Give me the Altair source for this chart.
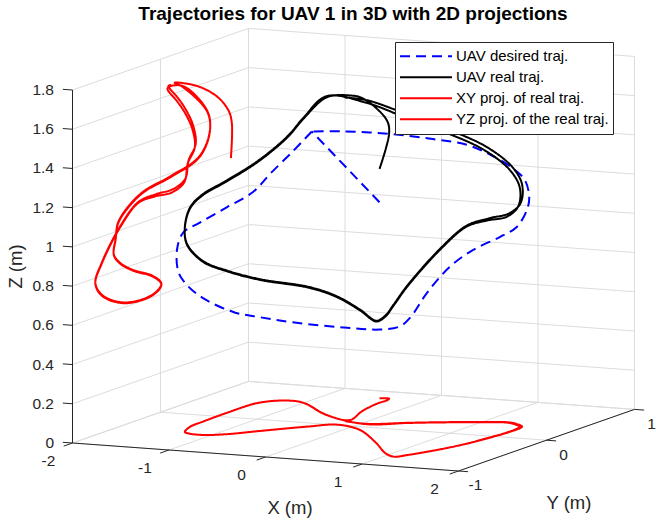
import altair as alt
import pandas as pd

# ---------------- text / categories ----------------
TITLE = "Trajectories for UAV 1 in 3D with 2D projections"
SERIES = ["UAV desired traj.", "UAV real traj.",
          "XY proj. of real traj.", "YZ proj. of the real traj."]
X_TICKS = [-2, -1, 0, 1, 2]
X_LABELS = ["-2", "-1", "0", "1", "2"]
Y_TICKS = [-1, 0, 1]
Y_LABELS = ["-1", "0", "1"]
Z_TICKS = [0, 0.2, 0.4, 0.6, 0.8, 1.0, 1.2, 1.4, 1.6, 1.8]
Z_LABELS = ["0", "0.2", "0.4", "0.6", "0.8", "1", "1.2", "1.4", "1.6", "1.8"]
AXIS_TITLES = ["X (m)", "Y (m)", "Z (m)"]

# ---------------- data (metres) ----------------
# desired trajectory: lead-in segment and closed loop
lead_x = [-0.46, -0.66]
lead_y = [0.80, 0.25]
lead_z = [1.00, 1.44]

des_x = [-0.66, -1.11, -1.27, -1.315, -1.31, -1.36, -1.40, -1.39, -1.34, -1.245,
         -1.14, -0.90, -0.69, -0.52, -0.11, 0.50, 0.98, 1.19, 1.38, 1.53,
         1.56, 1.57, 1.57, 1.55, 1.52, 1.42, 1.31, 1.12, 0.90, 0.61,
         0.29, -0.23, -0.66]
des_y = [0.25, 0.53, 0.44, 0.30, 0.00, -0.25, -0.40, -0.48, -0.52, -0.53,
         -0.46, -0.38, -0.31, -0.12, 0.00, -0.25, -0.55, -0.66, -0.68, -0.58,
         -0.35, -0.06, 0.13, 0.27, 0.33, 0.39, 0.38, 0.36, 0.30, 0.23,
         0.10, 0.10, 0.25]
des_z = [1.44, 1.28, 1.17, 1.10, 1.07, 1.03, 1.00, 0.93, 0.82, 0.76,
         0.685, 0.61, 0.58, 0.53, 0.50, 0.55, 0.63, 0.70, 0.835, 0.96,
         1.01, 1.03, 1.05, 1.115, 1.17, 1.245, 1.30, 1.36, 1.42, 1.45,
         1.485, 1.48, 1.44]

# real trajectory: take-off tail, two laps, end
tail_x = [-0.46, -0.37, -0.35, -0.35, -0.29, -0.18]
tail_y = [0.80, 0.81, 0.77, 0.64, 0.41, 0.16]
tail_z = [1.17, 1.35, 1.42, 1.51, 1.60, 1.655]

lap1_x = [-0.505, -1.00, -1.20, -1.39, -1.415, -1.405, -1.39, -1.31, -1.26, -1.08,
          -0.89, -0.685, -0.37, -0.18, 0.15, 0.61, 0.93, 1.09, 1.17, 1.31,
          1.40, 1.44, 1.47, 1.46, 1.44, 1.265, 1.02, 0.65, 0.38, 0.05]
lap1_y = [0.25, 0.53, 0.56, 0.44, 0.11, -0.17, -0.33, -0.48, -0.51, -0.53,
          -0.46, -0.31, -0.09, 0.01, -0.09, -0.41, -0.66, -0.74, -0.67, -0.455,
          -0.25, -0.06, 0.13, 0.27, 0.31, 0.39, 0.36, 0.27, 0.19, 0.08]
lap1_z = [1.62, 1.45, 1.34, 1.23, 1.18, 1.155, 1.115, 1.04, 0.96, 0.884,
          0.83, 0.77, 0.706, 0.65, 0.61, 0.62, 0.695, 0.77, 0.86, 1.017,
          1.107, 1.11, 1.10, 1.13, 1.22, 1.29, 1.39, 1.49, 1.555, 1.64]

lap2_x = [-0.51, -1.00, -1.20, -1.39, -1.415, -1.405, -1.39, -1.31, -1.26, -1.08,
          -0.89, -0.685, -0.37, -0.18, 0.15, 0.61, 0.93, 1.09, 1.17, 1.31,
          1.40, 1.45, 1.48, 1.475, 1.455, 1.28, 1.035, 0.66, 0.39, 0.06]
lap2_y = [0.25, 0.53, 0.56, 0.44, 0.11, -0.17, -0.33, -0.48, -0.51, -0.53,
          -0.46, -0.31, -0.09, 0.01, -0.09, -0.41, -0.66, -0.74, -0.67, -0.455,
          -0.25, -0.05, 0.14, 0.28, 0.32, 0.40, 0.37, 0.28, 0.20, 0.09]
lap2_z = [1.625, 1.455, 1.345, 1.235, 1.185, 1.16, 1.12, 1.045, 0.965, 0.888,
          0.834, 0.774, 0.71, 0.654, 0.614, 0.624, 0.70, 0.775, 0.865, 1.022,
          1.112, 1.12, 1.115, 1.145, 1.235, 1.305, 1.405, 1.505, 1.57, 1.65]

end_x = [-0.20]
end_y = [0.12]
end_z = [1.65]

real_x = tail_x + lap1_x + lap2_x + end_x
real_y = tail_y + lap1_y + lap2_y + end_y
real_z = tail_z + lap1_z + lap2_z + end_z

# ---------------- view (orthographic 3D projection) ----------------
X_MIN, X_MAX = -2.0, 2.0
Y_MIN, Y_MAX = -1.0, 1.0
Z_MIN, Z_MAX = 0.0, 1.8
ORIGIN = (72.5, 443.0)      # screen position of (X_MIN, Y_MIN, Z_MIN)
EX = (96.5, 7.0)            # screen step per metre in x
EY = (88.0, -30.8)          # screen step per metre in y
EZ = 196.1                  # screen step per metre in z (upwards)
W, H, TOP = 656, 527, 28


def proj(x, y, z):
    u, v = x - X_MIN, y - Y_MIN
    return (ORIGIN[0] + u * EX[0] + v * EY[0],
            ORIGIN[1] + u * EX[1] + v * EY[1] - (z - Z_MIN) * EZ)


XS = alt.Scale(domain=[0, W], nice=False, zero=False)
YS = alt.Scale(domain=[TOP, H], reverse=True, nice=False, zero=False)

# ---------------- trajectories ----------------
rows = []


def add_path(series, seg, xs, ys, zs):
    for i, (x, y, z) in enumerate(zip(xs, ys, zs)):
        sx, sy = proj(x, y, z)
        rows.append({"series": series, "seg": seg, "ord": i, "sx": sx, "sy": sy})


add_path(SERIES[0], "lead", lead_x, lead_y, lead_z)
add_path(SERIES[0], "desired", des_x, des_y, des_z)
add_path(SERIES[1], "real", real_x, real_y, real_z)
add_path(SERIES[2], "xy", real_x, real_y, [Z_MIN] * len(real_x))
add_path(SERIES[3], "yz", [X_MIN] * len(real_x), real_y, real_z)
paths = pd.DataFrame(rows)

legend = alt.Legend(
    orient="none", legendX=395, legendY=42 - TOP, symbolType="stroke",
    symbolSize=2704, symbolStrokeWidth=2, clipHeight=20.6, rowPadding=0,
    padding=4, labelOffset=3, labelFontSize=15, labelFont="Liberation Sans",
    labelColor="#000000", labelLimit=400, strokeColor="#262626",
    fillColor="#FFFFFF")

lines = alt.Chart(paths).mark_line(strokeWidth=2, interpolate="catmull-rom").encode(
    x=alt.X("sx:Q", scale=XS, axis=None),
    y=alt.Y("sy:Q", scale=YS, axis=None),
    color=alt.Color("series:N", scale=alt.Scale(domain=SERIES,
                    range=["#0000FF", "#000000", "#FF0000", "#FF0000"]),
                    legend=legend, title=None),
    strokeDash=alt.StrokeDash("series:N", scale=alt.Scale(domain=SERIES,
                              range=[[10, 6], [1, 0], [1, 0], [1, 0]]),
                              legend=legend, title=None),
    detail="seg:N",
    order="ord:Q",
)

# ---------------- box grid, axes, ticks ----------------
def seg_rows(segs):
    out = []
    for (a, b) in segs:
        x1, y1 = proj(*a)
        x2, y2 = proj(*b)
        out.append({"sx": x1, "sy": y1, "sx2": x2, "sy2": y2})
    return pd.DataFrame(out)


grid_segs = []
for xv in X_TICKS:
    grid_segs.append(((xv, Y_MIN, Z_MIN), (xv, Y_MAX, Z_MIN)))     # floor
    grid_segs.append(((xv, Y_MAX, Z_MIN), (xv, Y_MAX, Z_MAX)))     # back wall
for yv in Y_TICKS:
    grid_segs.append(((X_MIN, yv, Z_MIN), (X_MAX, yv, Z_MIN)))     # floor
    grid_segs.append(((X_MIN, yv, Z_MIN), (X_MIN, yv, Z_MAX)))     # side wall
for zv in Z_TICKS:
    grid_segs.append(((X_MIN, Y_MIN, zv), (X_MIN, Y_MAX, zv)))     # side wall
    grid_segs.append(((X_MIN, Y_MAX, zv), (X_MAX, Y_MAX, zv)))     # back wall

axis_segs = [((X_MIN, Y_MIN, Z_MIN), (X_MAX, Y_MIN, Z_MIN)),
             ((X_MAX, Y_MIN, Z_MIN), (X_MAX, Y_MAX, Z_MIN)),
             ((X_MIN, Y_MIN, Z_MIN), (X_MIN, Y_MIN, Z_MAX))]
TL = 0.1
for xv in X_TICKS:
    axis_segs.append(((xv, Y_MIN, Z_MIN), (xv, Y_MIN - TL, Z_MIN)))
for yv in Y_TICKS:
    axis_segs.append(((X_MAX, yv, Z_MIN), (X_MAX + TL, yv, Z_MIN)))
for zv in Z_TICKS:
    axis_segs.append(((X_MIN, Y_MIN, zv), (X_MIN - TL, Y_MIN, zv)))


def rules(df, color):
    return alt.Chart(df).mark_rule(color=color, strokeWidth=1).encode(
        x=alt.X("sx:Q", scale=XS, axis=None), y=alt.Y("sy:Q", scale=YS, axis=None),
        x2="sx2:Q", y2="sy2:Q")


grid = rules(seg_rows(grid_segs), "#DCDCDC")
axes = rules(seg_rows(axis_segs), "#262626")


# ---------------- labels ----------------
def label_df(points, labels):
    out = []
    for p, t in zip(points, labels):
        sx, sy = proj(*p)
        out.append({"sx": sx, "sy": sy, "text": t})
    return pd.DataFrame(out)


def texts(df, size, **kw):
    return alt.Chart(df).mark_text(font="Liberation Sans", fontSize=size,
                                   color="#262626", baseline="middle", **kw).encode(
        x=alt.X("sx:Q", scale=XS, axis=None), y=alt.Y("sy:Q", scale=YS, axis=None),
        text="text:N")


zlab = texts(label_df([(X_MIN, Y_MIN, z) for z in Z_TICKS], Z_LABELS), 15.5,
             align="right", dx=-18.5)
xlab = texts(label_df([(x, Y_MIN, Z_MIN) for x in X_TICKS], X_LABELS), 15.5,
             align="center", dx=-24, dy=17.7)
ylab = texts(label_df([(X_MAX, y, Z_MIN) for y in Y_TICKS], Y_LABELS), 15.5,
             align="center", dx=17, dy=14.4)
xtitle = texts(label_df([(0.0, Y_MIN, Z_MIN)], [AXIS_TITLES[0]]), 18.5,
               align="center", dx=24.5, dy=51)
ytitle = texts(label_df([(X_MAX, 0.0, Z_MIN)], [AXIS_TITLES[1]]), 18.5,
               align="center", dx=22.5, dy=63)
ztitle = texts(label_df([(X_MIN, Y_MIN, 0.9)], [AXIS_TITLES[2]]), 18.5,
               align="center", angle=270, dy=-57)

chart = alt.layer(grid, lines, axes, zlab, xlab, ylab, xtitle, ytitle, ztitle).properties(
    width=W, height=H - TOP,
    padding={"left": 0, "top": TOP, "right": 0, "bottom": 0},
    autosize=alt.AutoSizeParams(type="none"),
    background="#FFFFFF",
    title=alt.TitleParams(TITLE, font="Liberation Sans", fontSize=19,
                          fontWeight="bold", color="#000000", anchor="middle",
                          dx=25, offset=4, frame="group"),
).configure_view(strokeWidth=0)

chart.save("out.html", embed_options={"renderer": "svg", "actions": False})
